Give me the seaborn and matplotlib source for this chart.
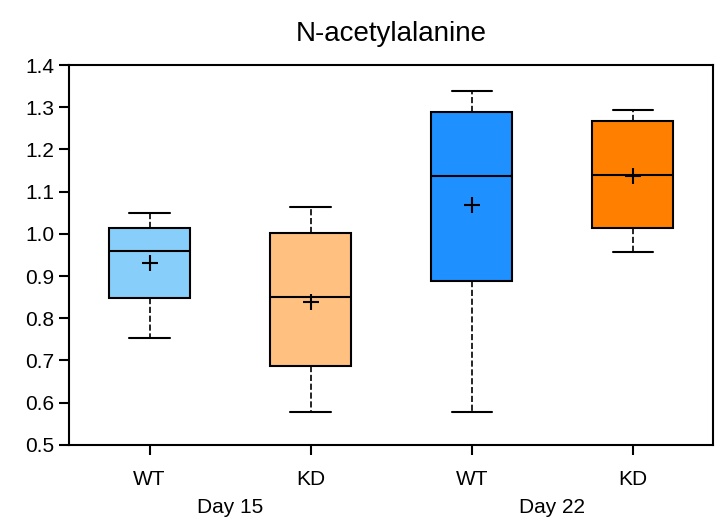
import numpy as np
import pandas as pd
import seaborn as sns
import matplotlib.pyplot as plt

# box statistics
groups = ['WT', 'KD', 'WT', 'KD']
days = ['Day 15', 'Day 15', 'Day 22', 'Day 22']
conds = ['Day 15 WT', 'Day 15 KD', 'Day 22 WT', 'Day 22 KD']
mins = [0.754, 0.577, 0.577, 0.956]
q1 = [0.847, 0.687, 0.888, 1.013]
med = [0.959, 0.851, 1.138, 1.140]
q3 = [1.015, 1.003, 1.289, 1.267]
maxs = [1.050, 1.064, 1.339, 1.293]
means = [0.931, 0.838, 1.068, 1.137]
colors = ['#87CEFA', '#FFC080', '#1E90FF', '#FF8000']

sns.set_theme(style='ticks')
plt.rcParams['font.family'] = ['Liberation Sans Narrow', 'Liberation Sans', 'DejaVu Sans']
plt.rcParams['text.color'] = 'black'
plt.rcParams['xtick.color'] = 'black'
plt.rcParams['ytick.color'] = 'black'

# five-number rows so the drawn quartiles equal the read values
rows = []
for c, a, b, m, d, e in zip(conds, mins, q1, med, q3, maxs):
    for v in (a, b, m, d, e):
        rows.append({'cond': c, 'value': v})
df = pd.DataFrame(rows)

fig, ax = plt.subplots(figsize=(7.19, 5.29), dpi=100)
fig.subplots_adjust(left=0.096, right=0.992, top=0.877, bottom=0.159)

sns.boxplot(
    data=df, x='cond', y='value', hue='cond', order=conds, hue_order=conds,
    palette=colors, saturation=1, whis=np.inf, width=0.5, linecolor='black',
    linewidth=1.5,
    whiskerprops={'linestyle': '--', 'linewidth': 1.2},
    capprops={'linestyle': '-', 'linewidth': 1.5},
    medianprops={'color': 'black', 'linewidth': 1.5},
    legend=False, ax=ax,
)
sns.scatterplot(x=conds, y=means, marker='+', s=130, color='black',
                linewidth=1.5, zorder=5, ax=ax)

ax.set_xlim(-0.5, 3.5)
ax.set_ylim(0.5, 1.4)
ax.set_yticks(np.arange(0.5, 1.41, 0.1))
ax.set_yticklabels([f'{v:.1f}' for v in np.arange(0.5, 1.41, 0.1)])
ax.set_xticks(range(4))
ax.set_xticklabels(groups)
ax.set_xlabel('')
ax.set_ylabel('')
ax.tick_params(axis='both', labelsize=15, length=7, width=1.5, color='black')
ax.tick_params(axis='x', pad=11)
for s in ax.spines.values():
    s.set_linewidth(1.5)
    s.set_color('black')

# day labels centered under each pair
for i, d in enumerate(['Day 15', 'Day 22']):
    ax.text(2 * i + 0.5, -0.165, d, transform=ax.get_xaxis_transform(),
            ha='center', va='center', fontsize=15)

ax.set_title('N-acetylalanine', fontsize=20, pad=17)

fig.savefig('out.png', dpi=100)
